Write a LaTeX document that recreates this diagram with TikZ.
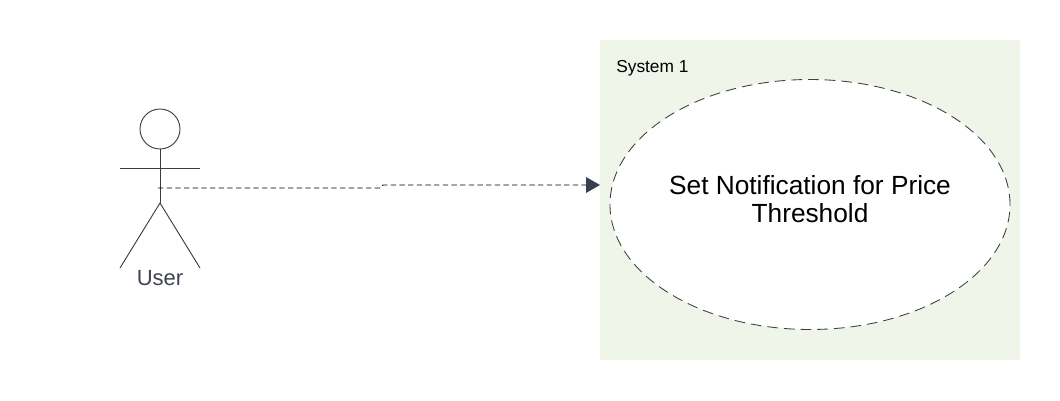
\documentclass[tikz,border=0pt]{standalone}
\usepackage{fontspec}
\setmainfont{Liberation Sans}
\usetikzlibrary{shapes.geometric}
\definecolor{boxgreen}{HTML}{EFF6E9}
\definecolor{tipslate}{HTML}{3A3F50}
\definecolor{labelslate}{HTML}{3F4350}
\definecolor{figline}{HTML}{3C3C3C}
\tikzset{
  figure/.style={draw=figline,line width=.7pt},
  usecase/.style={ellipse,draw=black!75,fill=white,dash pattern=on 8pt off 4.5pt,line width=.65pt,
    minimum width=300pt,minimum height=187.5pt,inner sep=0pt},
}
\begin{document}
\begin{tikzpicture}[x=.75pt,y=-.75pt]
   \useasboundingbox (0,0) rectangle (1060,400);
   \fill[boxgreen] (600,40) rectangle (1020,359.5);
   \node[anchor=west,inner sep=0pt,font=\fontsize{13}{15}\selectfont] (system) at (616,68) {System 1};
   \node[usecase] (notify) at (810,204.5) {};
   \node[align=center,font=\fontsize{19.7}{21}\selectfont] (notifytext) at (810,199) {Set Notification for Price\\Threshold};
   % the actor
   \node[circle,figure,minimum size=30pt,inner sep=0pt] (head) at (160,129) {};
   \coordinate (hip) at (160,203);
   \coordinate (armL) at (120,168);
   \coordinate (armR) at (200,168);
   \coordinate (footL) at (120,268);
   \coordinate (footR) at (200,268);
   \draw[figure] (head.south) -- (hip);
   \draw[figure] (armL) -- (armR);
   \draw[figure] (footL) -- (hip) -- (footR);
   \node[font=\fontsize{16.5}{18}\selectfont,text=labelslate] (user) at (160,278) {User};
   % the link
   \coordinate (start) at (158,188);
   \coordinate (bendA) at (380,188);
   \coordinate (bendB) at (383,185);
   \coordinate (stop) at (600,185);
   \draw[dash pattern=on 4pt off 2.5pt,line width=.6pt,shorten >=10pt] (start) -- (bendA) -- (bendB) -- (stop);
   \fill[tipslate] (stop) -- (586,177) -- (586,193) -- cycle;
\end{tikzpicture}
\end{document}
